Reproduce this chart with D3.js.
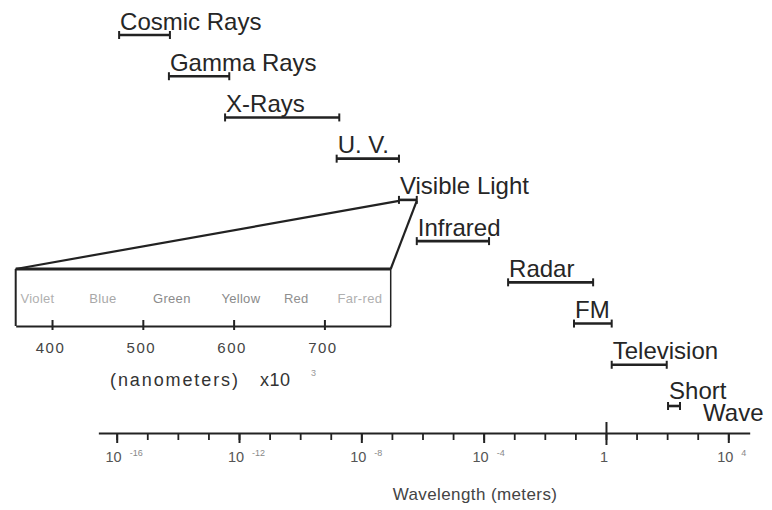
<!DOCTYPE html>
<html>
<head>
<meta charset="utf-8">
<script src="https://cdn.jsdelivr.net/npm/d3@7"></script>
<style>
  html, body { margin: 0; padding: 0; background: #fff; }
  svg { display: block; font-family: "Liberation Sans", Arial, Helvetica, sans-serif; }
</style>
</head>
<body>
<script>
// ---- Data (wavelengths in meters) ----
const bands    = ["Cosmic Rays", "Gamma Rays", "X-Rays", "U. V.", "Visible Light", "Infrared", "Radar", "FM", "Television", "Short Wave"];
const bandMin  = [1.2e-16, 5.1e-15, 3.5e-13, 1.56e-9, 1.7e-7, 6.5e-7, 6.3e-4, 0.09, 1.54, 107];
const bandMax  = [5.5e-15, 4.8e-13, 1.9e-9, 1.7e-7, 6.5e-7, 1.5e-4, 0.38, 1.54, 97, 263];

// main axis decades
const minorExponents = [-16,-15,-14,-13,-12,-11,-10,-9,-8,-7,-6,-5,-4,-3,-2,-1,0,1,2,3,4];
const majorExponents = [-16, -12, -8, -4, 0, 4];
const majorLabelBase = ["10", "10", "10", "10", "1", "10"];
const majorLabelSup  = ["-16", "-12", "-8", "-4", "", "4"];

// visible-light inset (nanometers)
const insetExtent   = [360, 773];
const insetTicks    = [400, 500, 600, 700];
const colourNames   = ["Violet", "Blue", "Green", "Yellow", "Red", "Far-red"];
const colourCentres = [384, 456, 532, 608, 669, 739];
const colourShades  = ["#b0b0b0", "#a8a8a8", "#8c8c8c", "#8a8a8a", "#8f8f8f", "#b0b0b0"];

// ---- Setup ----
const W = 772, H = 510;
const svg = d3.select("body").append("svg").attr("width", W).attr("height", H);
const ink = "#222";

const x = d3.scaleLog()
  .domain([Math.pow(10, -16.6), Math.pow(10, 4.7)])
  .range([98.35, 749.7]);

const y = d3.scalePoint().domain(bands).range([35, 406]);

const axisY = 433;

// ---- Band bars ----
const g = svg.append("g");
bands.forEach((b, i) => {
  const x0 = x(bandMin[i]), x1 = x(bandMax[i]), yy = y(b);
  g.append("line").attr("x1", x0).attr("x2", x1).attr("y1", yy).attr("y2", yy)
    .attr("stroke", ink).attr("stroke-width", 2.6);
  [x0, x1].forEach(xx => g.append("line").attr("x1", xx).attr("x2", xx)
    .attr("y1", yy - 4).attr("y2", yy + 4).attr("stroke", ink).attr("stroke-width", 2));
  if (b === "Short Wave") {
    g.append("text").attr("x", x0 + 1).attr("y", yy - 7.5)
      .attr("font-size", 24).attr("fill", "#262626").text("Short");
    g.append("text").attr("x", x0 + 35).attr("y", yy + 15)
      .attr("font-size", 24).attr("fill", "#262626").text("Wave");
  } else {
    g.append("text").attr("x", x0 + 1).attr("y", yy - 5.5)
      .attr("font-size", 24).attr("fill", "#262626").text(b);
  }
});

// ---- Main axis ----
const minorAxis = d3.axisBottom(x)
  .tickValues(minorExponents.map(e => Math.pow(10, e)))
  .tickSize(7).tickSizeOuter(0).tickFormat("");
const ax1 = svg.append("g").attr("transform", `translate(0,${axisY})`).call(minorAxis);
ax1.select(".domain").attr("stroke", ink).attr("stroke-width", 2.2);
ax1.selectAll(".tick line").attr("stroke", ink).attr("stroke-width", 1.8);

const majorAxis = d3.axisBottom(x)
  .tickValues(majorExponents.map(e => Math.pow(10, e)))
  .tickSize(10).tickSizeOuter(0).tickFormat("");
const ax2 = svg.append("g").attr("transform", `translate(0,${axisY})`).call(majorAxis);
ax2.select(".domain").remove();
ax2.selectAll(".tick line").attr("stroke", ink).attr("stroke-width", 2)
  .filter(d => d === 1).attr("y1", -11).attr("y2", 12);

majorExponents.forEach((e, i) => {
  const tx = x(Math.pow(10, e));
  if (majorLabelSup[i] === "") {
    svg.append("text").attr("x", tx - 2).attr("y", 461.5).attr("text-anchor", "middle")
      .attr("font-size", 14.5).attr("fill", "#555").text(majorLabelBase[i]);
  } else {
    svg.append("text").attr("x", tx + 5).attr("y", 461.5).attr("text-anchor", "end")
      .attr("font-size", 14.5).attr("fill", "#555").text(majorLabelBase[i]);
    svg.append("text").attr("x", tx + 13).attr("y", 456).attr("text-anchor", "start")
      .attr("font-size", 9).attr("fill", "#888").text(majorLabelSup[i]);
  }
});

svg.append("text").attr("x", 475).attr("y", 500).attr("text-anchor", "middle")
  .attr("font-size", 17).attr("letter-spacing", 0.4).attr("fill", "#444")
  .text("Wavelength (meters)");

// ---- Visible light inset ----
const insetTop = 269, insetBottom = 326;
const xn = d3.scaleLinear().domain(insetExtent).range([15.7, 390.7]);

const visIdx = bands.indexOf("Visible Light");
const visY = y(bands[visIdx]) + 1;
// trapezoid connecting lines
svg.append("line").attr("x1", xn(insetExtent[0])).attr("y1", insetTop)
  .attr("x2", x(bandMin[visIdx])).attr("y2", visY)
  .attr("stroke", ink).attr("stroke-width", 2.2);
svg.append("line").attr("x1", xn(insetExtent[1])).attr("y1", insetTop)
  .attr("x2", x(bandMax[visIdx])).attr("y2", visY)
  .attr("stroke", ink).attr("stroke-width", 2.2);

// box
svg.append("line").attr("x1", xn(insetExtent[0])).attr("x2", xn(insetExtent[1]))
  .attr("y1", insetTop).attr("y2", insetTop).attr("stroke", ink).attr("stroke-width", 3);
svg.append("line").attr("x1", xn(insetExtent[0])).attr("x2", xn(insetExtent[0]))
  .attr("y1", insetTop).attr("y2", insetBottom).attr("stroke", ink).attr("stroke-width", 2);
svg.append("line").attr("x1", xn(insetExtent[1])).attr("x2", xn(insetExtent[1]))
  .attr("y1", insetTop).attr("y2", insetBottom).attr("stroke", ink).attr("stroke-width", 1.5);

const insetAxis = d3.axisBottom(xn).tickValues(insetTicks).tickSize(4).tickSizeOuter(0);
const ax3 = svg.append("g").attr("transform", `translate(0,${insetBottom})`).call(insetAxis);
ax3.select(".domain").attr("stroke", ink).attr("stroke-width", 2);
ax3.selectAll(".tick line").attr("stroke", ink).attr("stroke-width", 2).attr("y1", -6).attr("y2", 4);
ax3.selectAll(".tick text").attr("y", 27).attr("dy", 0).attr("dx", -2)
  .attr("font-family", "Liberation Sans, Arial, sans-serif")
  .attr("font-size", 15).attr("letter-spacing", 1.5).attr("fill", "#444");

colourNames.forEach((c, i) => {
  svg.append("text").attr("x", xn(colourCentres[i])).attr("y", 303)
    .attr("text-anchor", "middle").attr("font-size", 13).attr("letter-spacing", 0.3)
    .attr("fill", colourShades[i]).text(c);
});

const nmLabel = svg.append("text").attr("y", 386).attr("font-size", 18).attr("fill", "#333");
nmLabel.append("tspan").attr("x", 110).attr("letter-spacing", 1.9).text("(nanometers)");
nmLabel.append("tspan").attr("x", 260).attr("letter-spacing", 0.5).text("x10");
svg.append("text").attr("x", 311).attr("y", 376).attr("font-size", 9).attr("fill", "#999").text("3");
</script>
</body>
</html>
